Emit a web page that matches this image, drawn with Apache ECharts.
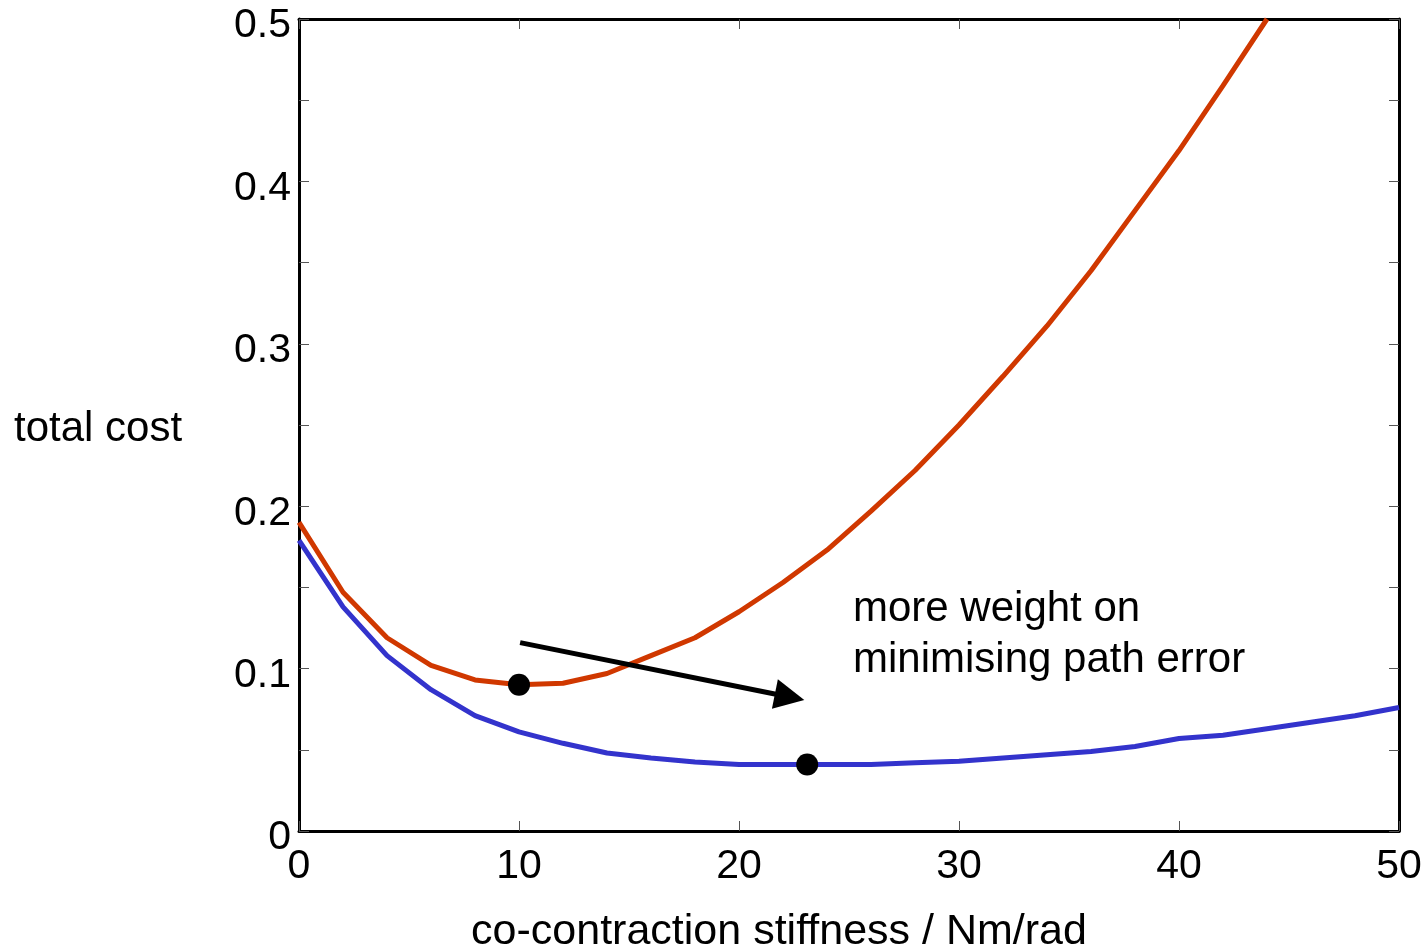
<!DOCTYPE html>
<html>
<head>
<meta charset="utf-8">
<script src="https://cdn.jsdelivr.net/npm/echarts@6/dist/echarts.min.js"></script>
<style>
  html, body { margin: 0; padding: 0; background: #fff; }
  #chart { width: 1428px; height: 948px; }
</style>
</head>
<body>
<div id="chart"></div>
<script>
// stiffness values (Nm/rad)
const stiffness = [0, 2, 4, 6, 8, 10, 12, 14, 16, 18, 20, 22, 24, 26, 28, 30, 32, 34, 36, 38, 40, 42, 44, 46, 48, 50];
// less weight on path error (red)
const costRed = [0.190, 0.147, 0.119, 0.102, 0.093, 0.090, 0.091, 0.097, 0.108, 0.119, 0.135, 0.153, 0.173, 0.197, 0.222, 0.250, 0.280, 0.311, 0.345, 0.382, 0.419, 0.459, 0.500];
// more weight on path error (blue)
const costBlue = [0.179, 0.138, 0.108, 0.087, 0.071, 0.061, 0.054, 0.048, 0.045, 0.0425, 0.041, 0.041, 0.041, 0.041, 0.042, 0.043, 0.045, 0.047, 0.049, 0.052, 0.057, 0.059, 0.063, 0.067, 0.071, 0.076];
// minima
const minima = [[10, 0.090], [23.1, 0.041]];
// arrow from red minimum towards blue minimum (end = centre of the head)
const arrow = [[10.05, 0.116], [22.3, 0.0825]];

const font = 'Liberation Sans, Arial, sans-serif';
const pairs = (ys) => ys.map((y, i) => [stiffness[i], y]);

const frameLine = { show: true, onZero: false, lineStyle: { color: '#000', width: 3 } };
const innerTick = { inside: true, length: 10, lineStyle: { color: '#555', width: 1 } };

const chart = echarts.init(document.getElementById('chart'));
chart.setOption({
  animation: false,
  grid: { left: 299, right: 29, top: 19, bottom: 117, containLabel: false, outerBoundsMode: 'none' },
  xAxis: [
    {
      type: 'value', min: 0, max: 50, interval: 10,
      name: 'co-contraction stiffness / Nm/rad',
      nameLocation: 'middle', nameGap: 80,
      nameTextStyle: { fontFamily: font, fontSize: 43, color: '#000', padding: [0, 140, 0, 0] },
      axisLine: frameLine,
      axisTick: innerTick,
      axisLabel: { fontFamily: font, fontSize: 41, color: '#000', margin: 15 },
      splitLine: { show: false }
    },
    {
      type: 'value', min: 0, max: 50, interval: 10, position: 'top',
      axisLine: frameLine,
      axisTick: innerTick,
      axisLabel: { show: false },
      splitLine: { show: false }
    }
  ],
  yAxis: [
    {
      type: 'value', min: 0, max: 0.5, interval: 0.05,
      axisLine: frameLine,
      axisTick: innerTick,
      axisLabel: {
        color: '#000', margin: 8,
        formatter: (v) => {
          const k = Math.round(v * 100);
          if (k % 10 !== 0) return '';
          return '{t|' + (k === 0 ? '0' : (k / 100).toString()) + '}';
        },
        rich: {
          t: { fontFamily: font, fontSize: 41, color: '#000', padding: [14, 0, 0, 0] }
        }
      },
      splitLine: { show: false }
    },
    {
      type: 'value', min: 0, max: 0.5, interval: 0.05, position: 'right',
      axisLine: frameLine,
      axisTick: innerTick,
      axisLabel: { show: false },
      splitLine: { show: false }
    }
  ],
  series: [
    {
      type: 'line', data: pairs(costRed), showSymbol: false,
      lineStyle: { color: '#d03800', width: 5 }, z: 2
    },
    {
      type: 'line', data: pairs(costBlue), showSymbol: false,
      lineStyle: { color: '#3333cc', width: 5 }, z: 2,
      markLine: {
        silent: true,
        symbol: ['none', 'triangle'],
        symbolSize: [30, 30],
        label: { show: false },
        lineStyle: { color: '#000', width: 5, type: 'solid' },
        data: [[{ coord: arrow[0] }, { coord: arrow[1] }]]
      }
    },
    {
      type: 'scatter', data: minima, symbolSize: 22,
      itemStyle: { color: '#000', opacity: 1 }, z: 5
    }
  ],
  graphic: [
    {
      type: 'text', left: 14, top: 408,
      style: { text: 'total cost', font: '42px ' + font, fill: '#000' }
    },
    {
      type: 'text', left: 853, top: 584,
      style: {
        text: 'more weight on\nminimising path error',
        font: '42px ' + font, fill: '#000', lineHeight: 51
      }
    }
  ]
});
</script>
</body>
</html>
